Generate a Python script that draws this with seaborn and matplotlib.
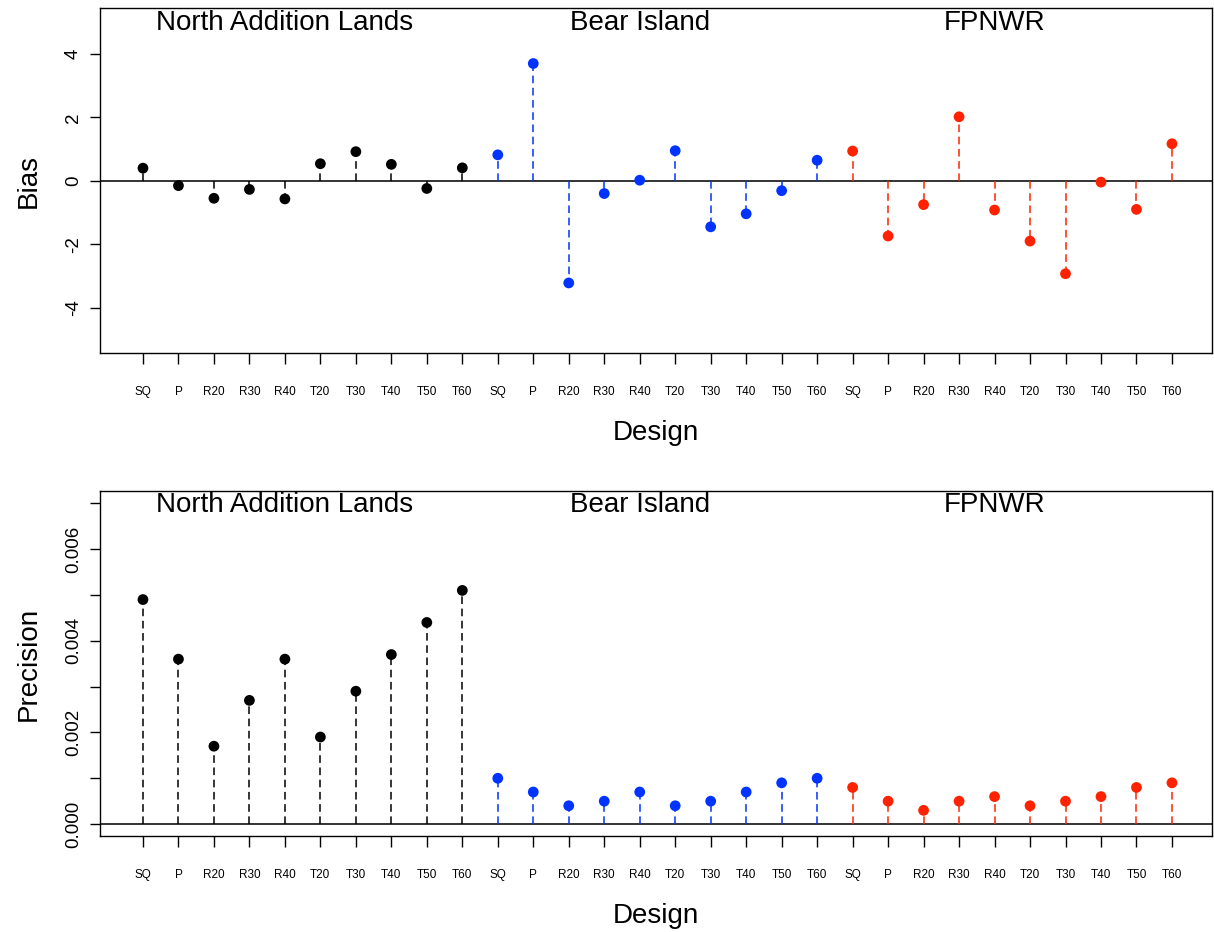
import numpy as np
import pandas as pd
import seaborn as sns
import matplotlib.pyplot as plt

# designs and study sites
designs = ["SQ", "P", "R20", "R30", "R40", "T20", "T30", "T40", "T50", "T60"]
sites = ["North Addition Lands", "Bear Island", "FPNWR"]
site_colors = ["#000000", "#0033ff", "#ff2200"]

# bias per design, one list per site
bias_nal = [0.40, -0.15, -0.55, -0.27, -0.57, 0.54, 0.92, 0.52, -0.24, 0.41]
bias_bi = [0.82, 3.70, -3.22, -0.40, 0.02, 0.95, -1.45, -1.04, -0.31, 0.65]
bias_fp = [0.94, -1.74, -0.75, 2.02, -0.92, -1.90, -2.93, -0.04, -0.90, 1.17]

# precision per design
prec_nal = [0.0049, 0.0036, 0.0017, 0.0027, 0.0036, 0.0019, 0.0029, 0.0037, 0.0044, 0.0051]
prec_bi = [0.0010, 0.0007, 0.0004, 0.0005, 0.0007, 0.0004, 0.0005, 0.0007, 0.0009, 0.0010]
prec_fp = [0.0008, 0.0005, 0.0003, 0.0005, 0.0006, 0.0004, 0.0005, 0.0006, 0.0008, 0.0009]

df = pd.DataFrame({
    "pos": np.arange(len(designs) * len(sites)),
    "site": np.repeat(sites, len(designs)),
    "design": designs * len(sites),
    "Bias": bias_nal + bias_bi + bias_fp,
    "Precision": prec_nal + prec_bi + prec_fp,
})
color_map = dict(zip(sites, site_colors))
df["color"] = df["site"].map(color_map)

sns.set_style("white")
plt.rcParams["font.family"] = ["Liberation Sans", "DejaVu Sans"]
plt.rcParams["text.color"] = "black"
plt.rcParams["axes.labelcolor"] = "black"
plt.rcParams["xtick.color"] = "black"
plt.rcParams["ytick.color"] = "black"

fig = plt.figure(figsize=(12.14, 9.32), dpi=100)
ax_top = fig.add_axes([0.0824, 0.6212, 0.916, 0.3702])
ax_bot = fig.add_axes([0.0824, 0.1030, 0.916, 0.3702])


def stem_panel(ax, var, ylim, text_y, yticks, ylabels):
    ax.axhline(0, color="#333333", lw=1.4, zorder=1)
    ax.vlines(df["pos"], 0, df[var], colors=df["color"],
              linestyles=[(0, (5, 3))], lw=1.1, zorder=2)
    sns.scatterplot(data=df, x="pos", y=var, hue="site", palette=site_colors,
                    s=60, edgecolor="none", legend=False, zorder=3, ax=ax)

    ax.set_xlim(-1.21, 30.13)
    ax.set_ylim(*ylim)
    ax.set_xticks(df["pos"])
    ax.set_xticklabels(df["design"], fontsize=8.5)
    ax.set_yticks(yticks)
    ax.set_yticklabels(ylabels, fontsize=13.5, rotation=90, va="center")
    ax.tick_params(axis="x", direction="out", length=8, width=1, pad=16,
                   bottom=True)
    ax.tick_params(axis="y", direction="out", length=7, width=1, pad=6,
                   left=True)
    for s in ax.spines.values():
        s.set_visible(True)
        s.set_color("black")
        s.set_linewidth(1)

    for i, site in enumerate(sites):
        ax.text(i * len(designs) + 4, text_y, site, ha="center", va="center",
                fontsize=20)

    ax.set_xlabel("Design", fontsize=20)
    ax.xaxis.set_label_coords(0.5, -0.195)
    ax.set_ylabel(var, fontsize=20)
    ax.yaxis.set_label_coords(-0.052, 0.5)


stem_panel(ax_top, "Bias", (-5.43, 5.45), 4.97,
           [-4, -2, 0, 2, 4], ["-4", "-2", "0", "2", "4"])

prec_ticks = np.arange(0, 0.0071, 0.001)
prec_labels = [f"{t:.3f}" if i % 2 == 0 else "" for i, t in enumerate(prec_ticks)]
stem_panel(ax_bot, "Precision", (-0.00026, 0.00727), 0.00697,
           prec_ticks, prec_labels)

plt.savefig("out.png", dpi=100)
